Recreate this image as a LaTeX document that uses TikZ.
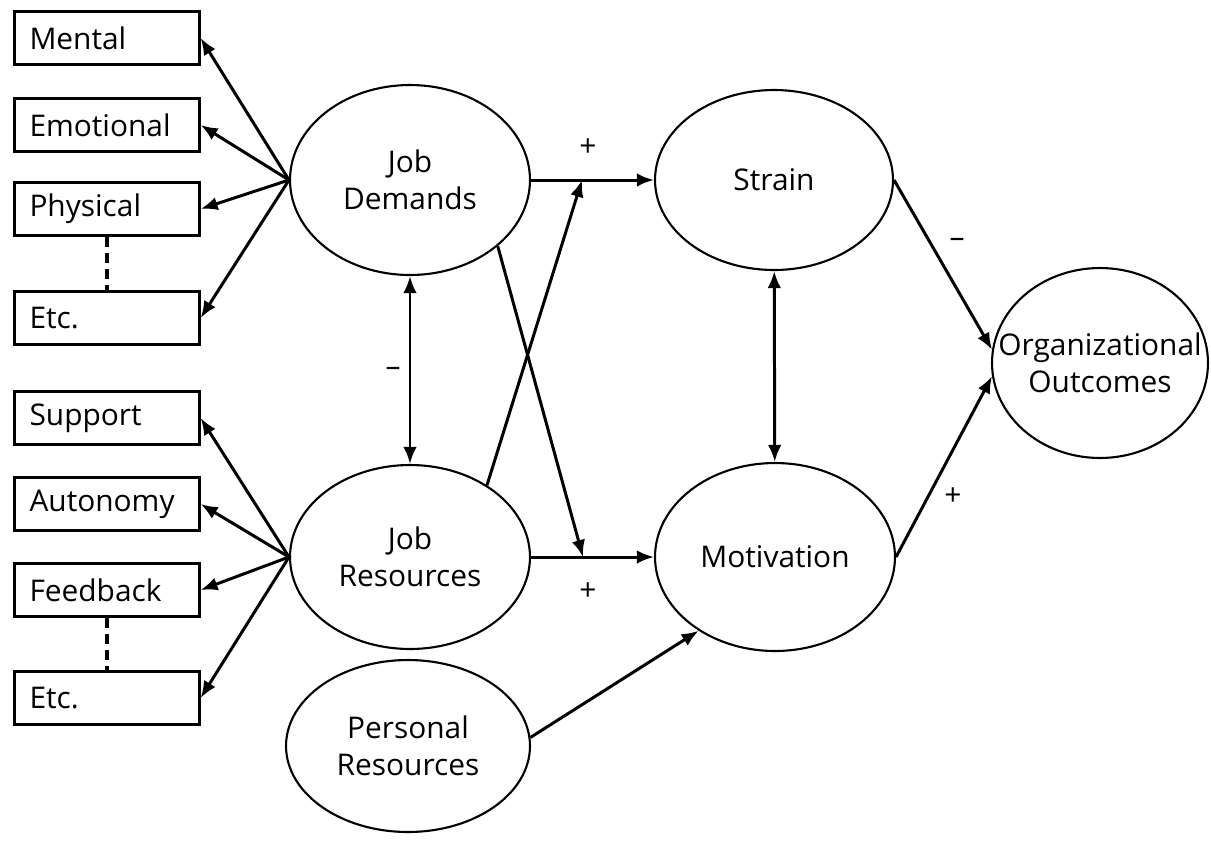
\documentclass[tikz,border=0pt]{standalone}
\usepackage{fontspec}
\setmainfont{Open Sans}
\usetikzlibrary{shapes.geometric,arrows.meta}
\tikzset{
  box/.style={draw, line width=1.3pt, minimum width=3.7cm, minimum height=1.06cm,
    inner sep=0pt, text width=3.1cm, align=left},
  latent/.style={draw, ellipse, line width=1.2pt, inner sep=0pt, align=center},
  sign/.style={inner sep=1pt},
  etcline/.style={line width=2pt, dash pattern=on 0.2cm off 0.12cm},
}
\begin{document}
\begin{tikzpicture}[x=0.02cm, y=-0.02cm, line width=1.7pt,
    >={Latex[length=0.34cm,width=0.27cm]},
    font=\fontsize{17}{21}\selectfont]
\useasboundingbox (0,0) rectangle (1211,840);
% indicator boxes
\node[box] (ment) at (107,38) {Mental};
\node[box] (emot) at (107,125) {Emotional};
\node[box] (phys) at (107,209) {Physical};
\node[box] (etcd) at (107,318) {Etc.};
\node[box] (supp) at (107,418) {Support};
\node[box] (auto) at (107,504) {Autonomy};
\node[box] (feed) at (107,590) {Feedback};
\node[box] (etcr) at (107,698) {Etc.};
% latent variables
\node[latent, minimum width=4.8cm, minimum height=3.8cm] (jd) at (410,180) {Job\\Demands};
\node[latent, minimum width=4.8cm, minimum height=3.68cm] (jr) at (410,557) {Job\\Resources};
\node[latent, minimum width=4.88cm, minimum height=3.44cm] (pr) at (408,746) {Personal\\Resources};
\node[latent, minimum width=4.76cm, minimum height=3.6cm] (str) at (774,180) {Strain};
\node[latent, minimum width=4.8cm, minimum height=3.76cm] (mot) at (775,557) {Motivation};
\node[latent, minimum width=4.32cm, minimum height=3.8cm] (oo) at (1100,363)
    {\makebox[0pt]{Organizational}\\\makebox[0pt]{Outcomes}};
\coordinate (dmod) at (582,180);
\coordinate (rmod) at (583,557);
\draw[->] (jd.west) -- (ment.east);
\draw[->] (jd.west) -- (emot.east);
\draw[->] (jd.west) -- (phys.east);
\draw[->] (jd.west) -- (etcd.east);
\draw[->] (jr.west) -- (supp.east);
\draw[->] (jr.west) -- (auto.east);
\draw[->] (jr.west) -- (feed.east);
\draw[->] (jr.west) -- (etcr.east);
\draw[etcline] (phys) -- (etcd);
\draw[etcline] (feed) -- (etcr);
\draw[->] (jd.east) -- (str.west);
\draw[->] (jr.east) -- (mot.west);
\draw[->] (jr.43) -- (dmod);
\draw[->] (jd.323) -- (rmod);
\draw[<->] (jd) -- (jr);
\draw[<->] (str) -- (mot);
\draw[->] (str.east) -- (oo.173);
\draw[->] (mot.east) -- (oo.187);
\draw[->] (pr.4) -- (mot.224);
% signs
\node[sign] (sdm) at (588,148) {+};
\node[sign] (srm) at (588,592) {+};
\node[sign] (sdr) at (393,372) {–};
\node[sign] (sso) at (957,243) {–};
\node[sign] (smo) at (953,497) {+};
\end{tikzpicture}
\end{document}
